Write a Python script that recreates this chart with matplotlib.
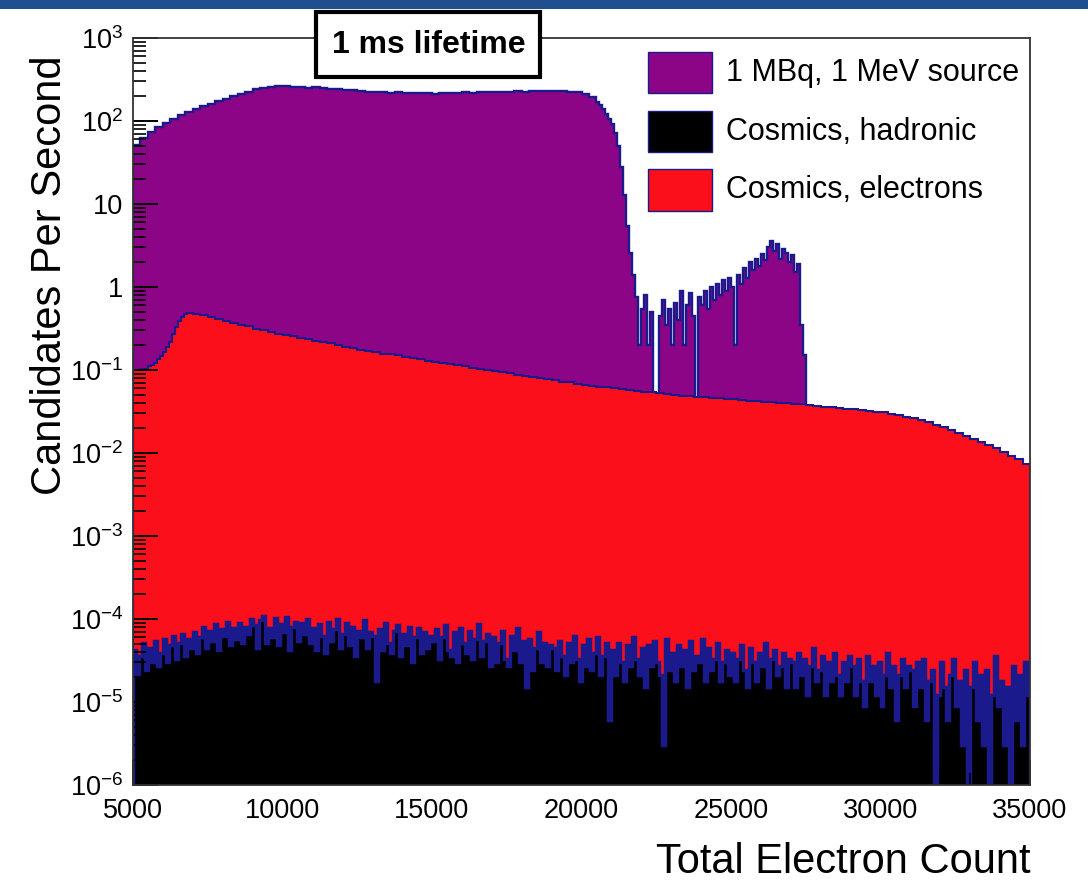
import numpy as np
import matplotlib
matplotlib.use('Agg')
import matplotlib.pyplot as plt
from matplotlib.patches import Rectangle
from matplotlib.ticker import LogLocator, NullFormatter, MultipleLocator

plt.rcParams['font.family'] = ['Liberation Sans', 'DejaVu Sans']
plt.rcParams['mathtext.fontset'] = 'custom'
plt.rcParams['mathtext.rm'] = 'Liberation Sans'
plt.rcParams['mathtext.it'] = 'Liberation Sans:italic'
plt.rcParams['mathtext.bf'] = 'Liberation Sans:bold'

# --- data ---
# hadronic cosmics: counts per 100-electron bin, each count worth 3e-6 /s
hadronic_weight = 3e-6
hadronic_counts = [
    14, 7, 12, 17, 8, 15, 10, 18, 9, 13, 19, 10, 16, 21, 11, 17, 22, 12, 19, 15,
    23, 13, 20, 27, 15, 24, 18, 29, 14, 25, 21, 31, 16, 26, 19, 30, 17, 27, 22, 33,
    28, 15, 32, 36, 17, 26, 20, 34, 16, 29, 23, 35, 14, 27, 31, 18, 30, 22, 33, 17,
    26, 14, 29, 21, 13, 31, 18, 25, 33, 15, 22, 30, 16, 27, 12, 24, 20, 32, 15, 23,
    21, 6, 25, 14, 30, 17, 13, 24, 28, 12, 22, 16, 27, 10, 20, 26, 13, 23, 15, 21,
    18, 25, 11, 20, 28, 14, 12, 23, 10, 26, 17, 13, 24, 11, 19, 29, 12, 18, 22, 9,
    20, 10, 17, 24, 11, 9, 21, 14, 26, 10, 18, 5, 19, 8, 15, 23, 10, 17, 9, 16,
    15, 8, 18, 12, 7, 17, 10, 21, 11, 6, 16, 9, 19, 8, 13, 20, 7, 12, 17, 2,
    14, 7, 17, 10, 6, 16, 9, 20, 11, 7, 15, 5, 16, 9, 18, 10, 7, 1, 19, 8,
    13, 6, 16, 9, 14, 5, 18, 8, 12, 10, 19, 6, 15, 8, 11, 17, 6, 10, 14, 7,
    13, 6, 11, 16, 8, 5, 15, 10, 6, 13, 9, 17, 5, 11, 14, 7, 9, 13, 5, 11,
    10, 5, 13, 7, 11, 4, 9, 15, 6, 8, 12, 4, 10, 6, 13, 7, 4, 10, 6, 12,
    9, 4, 11, 6, 3, 12, 6, 9, 4, 10, 3, 7, 13, 5, 9, 2, 7, 11, 5, 9,
    8, 3, 10, 5, 11, 2, 6, 8, 0, 4, 10, 5, 2, 7, 11, 3, 6, 1, 8, 0,
    5, 10, 2, 7, 1, 8, 0, 4, 12, 3, 6, 1, 5, 0, 9, 2, 7, 1, 10, 4,
]
hadronic_edges = np.arange(5000, 35001, 100)

# electron cosmics (stack top): 250-wide bins, 100-wide across the turn-on
electron_rate = [
    0.100, 0.104,
    0.112, 0.116, 0.122, 0.135, 0.148, 0.165, 0.19, 0.22, 0.27, 0.33,
    0.39, 0.44, 0.475, 0.49, 0.485,
    0.479, 0.457, 0.432, 0.412, 0.389, 0.372, 0.351, 0.335, 0.316, 0.302,
    0.288, 0.275, 0.266, 0.257, 0.245, 0.234, 0.226, 0.216, 0.209, 0.200, 0.191, 0.184, 0.176,
    0.170, 0.164, 0.158, 0.155, 0.150, 0.145, 0.140, 0.135, 0.130, 0.126, 0.123, 0.119, 0.115,
    0.111, 0.107, 0.104, 0.100, 0.098, 0.094, 0.091, 0.088, 0.085, 0.083, 0.080, 0.078, 0.075,
    0.072, 0.071, 0.068, 0.066,
    0.0646, 0.0631, 0.0617, 0.0603, 0.0589, 0.0575, 0.0562, 0.0550, 0.0537, 0.0525, 0.0513,
    0.0501, 0.0490,
    0.0484, 0.0479, 0.0468, 0.0462, 0.0457, 0.0447, 0.0442, 0.0437, 0.0427, 0.0422, 0.0417,
    0.0407, 0.0403, 0.0398, 0.0389, 0.0385,
    0.0380, 0.0372, 0.0363, 0.0359, 0.0351, 0.0343, 0.0335, 0.0331, 0.0324, 0.0316,
    0.0309, 0.0299, 0.0288, 0.0275, 0.0263, 0.0251, 0.0234, 0.0219, 0.0204, 0.0191,
    0.0176, 0.0162, 0.0148, 0.0136, 0.0124, 0.0114, 0.0102, 0.0093, 0.0084, 0.0073,
]
electron_edges = np.concatenate([np.arange(5000, 5500, 250), np.arange(5500, 7000, 100),
                                 np.arange(7000, 35001, 250)])

# 1 MBq source (stack top): 250-wide bins up to 20500, then 100-wide bins
source_rate = [
    52, 63, 74, 85, 95, 105, 117, 129, 141, 151, 162, 174, 186, 200, 214, 226, 240, 251,
    257, 263, 263, 257, 260, 251, 257, 251, 245, 243, 237, 234, 229, 226, 224, 221, 219,
    221, 216, 219, 216, 219, 214, 219, 216, 219, 221, 216, 221, 224, 221, 226, 224, 229,
    226, 232, 229, 232, 229, 232, 226, 224, 214, 195,
    170, 155, 140, 122, 105, 92, 72, 50, 28, 13,
    5.5, 2.6, 1.4, 0.75, 0.2, 0.55, 0.8, 0.2, 0.5, 0,
    0, 0.45, 0.7, 0.35, 0.55, 0.2, 0.65, 0.4, 0.9, 0.2,
    0.6, 0.85, 0.45, 0, 0.75, 0.6, 0.9, 0.55, 1.0, 0.7,
    1.1, 0.8, 1.2, 0.9, 1.3, 1.0, 0.2, 1.4, 1.1, 1.7,
    1.3, 2.0, 1.6, 2.2, 1.8, 2.5, 2.1, 3.0, 3.6, 2.7,
    3.3, 2.2, 2.9, 2.6, 2.0, 2.4, 1.5, 1.9, 0.35, 0.15,
]
source_edges = np.concatenate([np.arange(5000, 20500, 250), np.arange(20500, 27501, 100)])

labels = ['1 MBq, 1 MeV source', 'Cosmics, hadronic', 'Cosmics, electrons']
colors = ['#8c0587', '#000000', '#fb0f1b']
line_color = '#1a1a8c'

y_ticks = [1e-6, 1e-5, 1e-4, 1e-3, 1e-2, 1e-1, 1, 10, 100, 1000]
y_ticklabels = [r'$10^{-6}$', r'$10^{-5}$', r'$10^{-4}$', r'$10^{-3}$', r'$10^{-2}$',
                r'$10^{-1}$', '1', '10', r'$10^{2}$', r'$10^{3}$']
x_ticks = [5000, 10000, 15000, 20000, 25000, 30000, 35000]

fig = plt.figure(figsize=(10.88, 8.8), dpi=100)
fig.add_artist(Rectangle((0, 1 - 9 / 880), 1, 9 / 880, transform=fig.transFigure,
                         facecolor='#1f4f8f', edgecolor='none'))
ax = fig.add_axes([133 / 1088, 95 / 880, 897 / 1088, 747 / 880])
ax.set_yscale('log')

base = 1e-7
ax.stairs(np.maximum(source_rate, base), source_edges, baseline=base, fill=True,
          facecolor=colors[0], edgecolor=line_color, linewidth=1.7)
ax.stairs(electron_rate, electron_edges, baseline=base, fill=True,
          facecolor=colors[2], edgecolor=line_color, linewidth=1.5)
had = np.maximum(np.array(hadronic_counts) * hadronic_weight, base)
ax.stairs(had, hadronic_edges, baseline=base, fill=True,
          facecolor=colors[1], edgecolor=line_color, linewidth=2.5)

ax.set_xlim(5000, 35000)
ax.set_ylim(1e-6, 1e3)
ax.set_yticks(y_ticks)
ax.set_yticklabels(y_ticklabels)
ax.yaxis.set_minor_locator(LogLocator(base=10, subs=np.arange(2, 10), numticks=100))
ax.yaxis.set_minor_formatter(NullFormatter())
ax.set_xticks(x_ticks)
ax.set_xticklabels([str(v) for v in x_ticks])
ax.xaxis.set_minor_locator(MultipleLocator(1000))
ax.tick_params(which='both', direction='in', top=False, right=False, colors='black')
ax.tick_params(which='major', length=18, width=1.4, labelsize=19.5)
ax.tick_params(which='minor', length=9, width=1.2)
ax.tick_params(axis='y', pad=7)
ax.tick_params(axis='x', pad=9)
for s in ax.spines.values():
    s.set_color('#333333')
    s.set_linewidth(1.3)

ax.text(-0.092, 0.683, 'Candidates Per Second', transform=ax.transAxes, rotation=90,
        ha='center', va='center', fontsize=30)
ax.text(1.0, -0.118, 'Total Electron Count', transform=ax.transAxes,
        ha='right', va='baseline', fontsize=30)

# legend drawn by hand, ROOT style
leg_y = [0.9538, 0.8748, 0.7965]
for lab, col, yy in zip(labels, colors, leg_y):
    ax.add_patch(Rectangle((0.574, yy - 0.0275), 0.0714, 0.055, transform=ax.transAxes,
                           facecolor=col, edgecolor=line_color, linewidth=1.0, zorder=5))
    ax.text(0.661, yy, lab, transform=ax.transAxes, ha='left', va='center',
            fontsize=22, zorder=5)

# title box
fig.add_artist(Rectangle((316 / 1088, 1 - 77 / 880), 224 / 1088, 65 / 880,
                         transform=fig.transFigure, facecolor='white',
                         edgecolor='black', linewidth=3))
fig.text(429 / 1088, 1 - 45 / 880, '1 ms lifetime', ha='center', va='center',
         fontsize=23, fontweight='bold')

fig.savefig('out.png', dpi=100)
